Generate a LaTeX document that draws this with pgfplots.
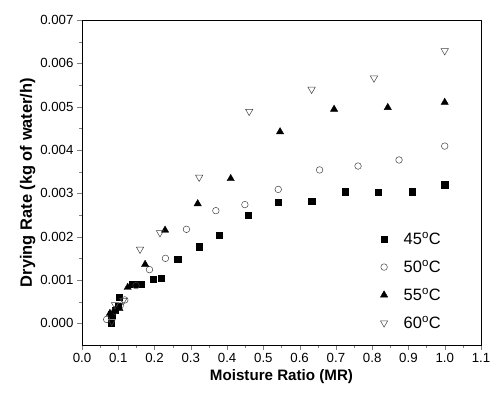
\documentclass[border=0pt]{standalone}
\usepackage{fontspec}
\setmainfont{Liberation Sans}
\usepackage{pgfplots}
\pgfplotsset{compat=1.18}

\begin{document}
\begin{tikzpicture}
\begin{axis}[
  name=ax,
  scale only axis,
  width=399bp, height=325bp,
  xmin=0, xmax=1.1, ymin=-0.0005, ymax=0.007,
  xtick={0,0.1,...,1.1},
  ytick={0,0.001,...,0.007},
  minor x tick num=1, minor y tick num=1,
  tick pos=left, tick align=outside,
  major tick length=5bp, minor tick length=3bp,
  scaled y ticks=false,
  xticklabel style={/pgf/number format/.cd, fixed, fixed zerofill, precision=1, assume math mode=true},
  yticklabel style={/pgf/number format/.cd, fixed, fixed zerofill, precision=3, assume math mode=true},
  tick label style={font=\fontsize{13.3}{15}\selectfont},
  xlabel={\textbf{Moisture Ratio (MR)}},
  ylabel={\textbf{Drying Rate (kg of water/h)}},
  xlabel style={font=\fontsize{15.2}{17}\selectfont},
  ylabel style={font=\fontsize{16.5}{18}\selectfont, yshift=-2bp},
  axis line style={black, line width=0.6pt},
  legend style={draw=none, fill=none, at={(0.74,0.36)}, anchor=north west,
    font=\fontsize{16.5}{18}\selectfont, row sep=10bp, legend cell align=left},
]
% 45 C
\addplot[only marks, mark=square*, mark size=3.2bp, black] coordinates {
  (0.080,0.00001) (0.082,0.00020) (0.092,0.00030) (0.100,0.00040) (0.103,0.00060)
  (0.140,0.00091) (0.162,0.00091) (0.196,0.00102) (0.218,0.00104) (0.264,0.00148)
  (0.323,0.00177) (0.379,0.00203) (0.459,0.00250) (0.541,0.00280) (0.633,0.00282)
  (0.725,0.00304) (0.817,0.00302) (0.910,0.00304) (1.000,0.00320)
};
% 50 C
\addplot[only marks, mark=o, mark size=3.3bp, black!75, mark options={line width=0.5pt}] coordinates {
  (0.068,0.00009) (0.090,0.00028) (0.105,0.00040) (0.118,0.00054) (0.149,0.00087)
  (0.186,0.00124) (0.230,0.00150) (0.288,0.00217) (0.369,0.00260) (0.449,0.00274)
  (0.541,0.00309) (0.655,0.00354) (0.761,0.00363) (0.874,0.00377) (1.000,0.00409)
};
% 55 C
\addplot[only marks, mark=triangle*, mark size=4.2bp, black] coordinates {
  (0.077,0.00023) (0.091,0.00030) (0.103,0.00034) (0.126,0.00083) (0.174,0.00136)
  (0.229,0.00215) (0.319,0.00276) (0.410,0.00334) (0.546,0.00442) (0.695,0.00494)
  (0.843,0.00498) (1.000,0.00510)
};
% 60 C
\addplot[only marks, mark=triangle, mark size=4.2bp, black!75, mark options={rotate=180, line width=0.5pt}] coordinates {
  (0.082,0.00004) (0.091,0.00043) (0.114,0.00053) (0.160,0.00171) (0.215,0.00209)
  (0.323,0.00337) (0.461,0.00489) (0.633,0.00540) (0.805,0.00566) (1.000,0.00629)
};
\legend{\hspace{14bp}45\textsuperscript{o}C, \hspace{14bp}50\textsuperscript{o}C,
        \hspace{14bp}55\textsuperscript{o}C, \hspace{14bp}60\textsuperscript{o}C}
\end{axis}
\pgfresetboundingbox
\path (ax.south west) ++(-82bp,-58bp) rectangle ([shift={(20bp,20bp)}]ax.north east);
\end{tikzpicture}
\end{document}
